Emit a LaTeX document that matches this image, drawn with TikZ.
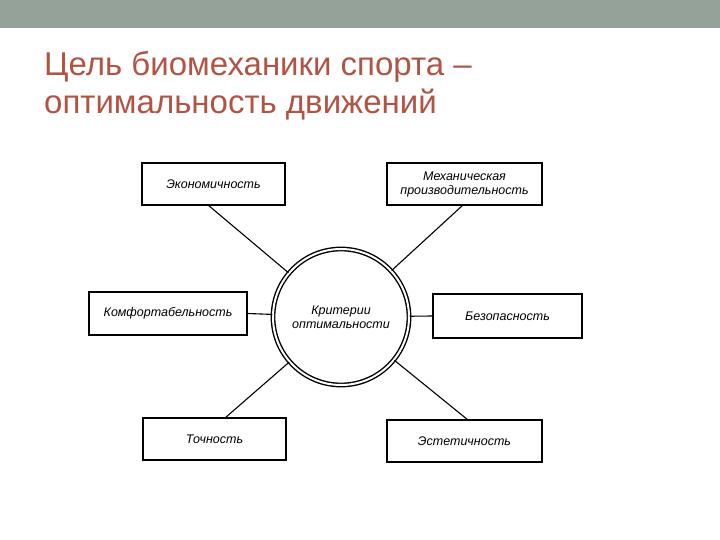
\documentclass[tikz,border=0pt]{standalone}
\usepackage{fontspec}
\setmainfont{Liberation Sans}
\begin{document}
\begin{tikzpicture}[x=1pt,y=-1pt,
  lbl/.style={font=\itshape\fontsize{12.5}{14}\selectfont,align=center},
  bx/.style={lbl,draw,line width=1.8pt,inner sep=0pt},
  ln/.style={line width=1.1pt}]
\useasboundingbox (0,0) rectangle (720,540);
\fill[white] (0,0) rectangle (720,540);
\definecolor{bar}{HTML}{95A29A}
\definecolor{ttl}{HTML}{B25444}
\fill[bar] (0,0) rectangle (720,28);
\node[anchor=base west,text=ttl,font=\fontsize{33}{38}\selectfont,inner sep=0pt] (title1) at (44,76) {Цель биомеханики спорта –};
\node[anchor=base west,text=ttl,font=\fontsize{33}{38}\selectfont,inner sep=0pt] (title2) at (44,114) {оптимальность движений};
\node[lbl,draw,circle,double,double distance=2pt,line width=1.4pt,minimum size=136pt] (c) at (341,317) {Критерии\\оптимальности};
\node[bx,minimum width=143pt,minimum height=42pt] (e) at (213.5,184) {Экономичность};
\node[bx,minimum width=155pt,minimum height=42pt] (m) at (464.5,184) {Механическая\\производительность};
\node[bx,minimum width=158pt,minimum height=43pt] (k) at (168,313.5) {Комфортабельность};
\node[bx,minimum width=149pt,minimum height=44pt] (b) at (507.5,316) {Безопасность};
\node[bx,minimum width=143pt,minimum height=42pt] (t) at (214.5,439) {Точность};
\node[bx,minimum width=155pt,minimum height=42pt] (s) at (464.5,441) {Эстетичность};
\coordinate (e1) at (208,205);
\coordinate (m1) at (463,205);
\coordinate (t1) at (225,418);
\coordinate (s1) at (468,420);
\draw[ln] (e1) -- (c);
\draw[ln] (m1) -- (c);
\draw[ln] (k.east) -- (c);
\draw[ln] (b.west) -- (c);
\draw[ln] (t1) -- (c);
\draw[ln] (s1) -- (c);
\end{tikzpicture}
\end{document}
